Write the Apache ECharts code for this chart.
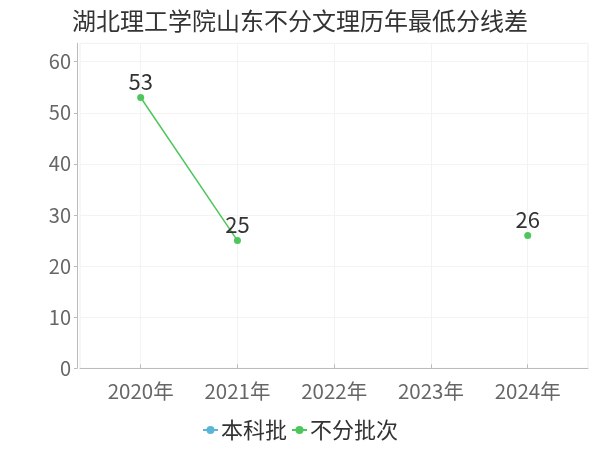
<!DOCTYPE html>
<html lang="zh">
<head>
    <meta charset="UTF-8">
    <title>湖北理工学院山东不分文理历年最低分线差</title>
    <script src="https://cdn.jsdelivr.net/npm/echarts@6/dist/echarts.min.js"></script>
</head>
<body style="margin:0">
<div id="main" style="width:600px;height:450px;"></div>
<script>
    var years = ['2020年', '2021年', '2022年', '2023年', '2024年'];
    var benkeName = '本科批';
    var benke = [null, null, null, null, null];
    var bufenName = '不分批次';
    var bufen = [53, 25, null, null, 26];
    var yTop = 63.6;

    var font = '"Noto Sans CJK SC", "Noto Sans", sans-serif';
    var chart = echarts.init(document.getElementById('main'));
    var option = {
        title: {
            text: '湖北理工学院山东不分文理历年最低分线差',
            left: 'center', top: 4,
            textStyle: { fontSize: 24, fontWeight: 'normal', color: '#333', fontFamily: font }
        },
        legend: {
            bottom: 4, left: 'center', itemGap: 4, itemWidth: 15, itemHeight: 10,
            textStyle: { fontSize: 22, color: '#333', fontFamily: font, padding: [0, 0, 0, -2] },
            data: [benkeName, bufenName]
        },
        color: ['#5bb5d6', '#4ec65c'],
        // outer grid carries the frame, y axis and x axis line; inner grid carries the categories
        grid: [
            { left: 80, right: 12, top: 43.3, bottom: 81.7, show: true, borderColor: '#eee', borderWidth: 1 },
            { left: 92.3, right: 23.9, top: 43.3, bottom: 81.7 }
        ],
        xAxis: [
            {
                type: 'category', gridIndex: 0, data: years, offset: 3.4,
                axisLine: { lineStyle: { color: '#bbb' } },
                axisTick: { show: false }, axisLabel: { show: false }, splitLine: { show: false }
            },
            {
                type: 'category', gridIndex: 1, data: years, offset: 3.4,
                axisLine: { show: false },
                axisTick: { show: true, alignWithLabel: true, inside: true, length: 4, lineStyle: { color: '#bbb' } },
                axisLabel: { fontSize: 20.5, color: '#666', margin: 9, fontFamily: font },
                splitLine: { show: true, alignWithLabel: true, lineStyle: { color: '#f3f3f3' } }
            }
        ],
        yAxis: [
            {
                type: 'value', gridIndex: 0, min: 0, max: yTop, interval: 10, offset: 3,
                axisLine: { show: true, lineStyle: { color: '#bbb' } },
                axisTick: { show: true, length: 3, lineStyle: { color: '#bbb' } },
                axisLabel: { fontSize: 20, color: '#666', margin: 6, fontFamily: font, showMaxLabel: false },
                splitLine: { lineStyle: { color: '#f3f3f3' } }
            },
            {
                type: 'value', gridIndex: 1, min: 0, max: yTop, show: false, splitLine: { show: false }
            }
        ],
        series: [
            {
                name: benkeName, type: 'line', xAxisIndex: 1, yAxisIndex: 1, data: benke,
                symbol: 'circle', symbolSize: 7, lineStyle: { width: 1.5 }
            },
            {
                name: bufenName, type: 'line', xAxisIndex: 1, yAxisIndex: 1, data: bufen,
                symbol: 'circle', symbolSize: 7, lineStyle: { width: 1.5 },
                label: { show: true, position: 'top', distance: 1, fontSize: 22, color: '#333', fontFamily: font }
            }
        ]
    };
    chart.setOption(option);
</script>
</body>
</html>
